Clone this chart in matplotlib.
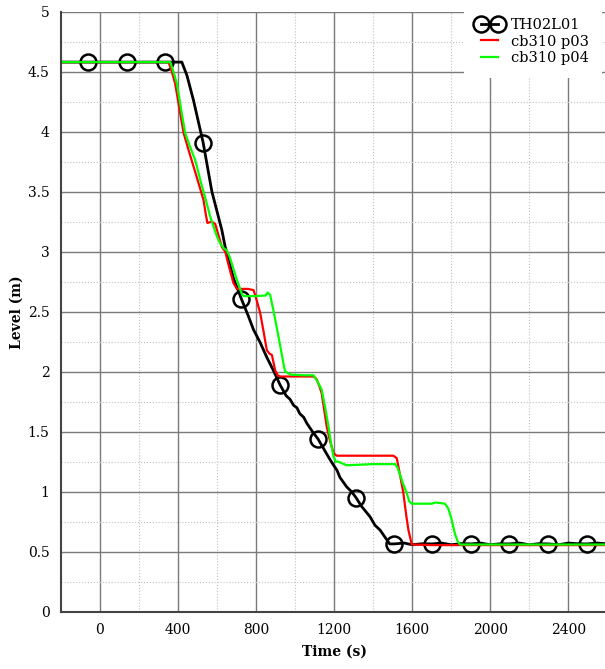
import numpy as np
import matplotlib.pyplot as plt
from matplotlib.ticker import MultipleLocator

# measured level, TH02L01
black_t = [-200, -58, 142, 336, 421, 447, 481, 530, 575, 626, 643, 685, 725,
           760, 788, 820, 856, 890, 924, 955, 975, 993, 1010, 1025, 1045, 1061,
           1090, 1118, 1150, 1175, 1198, 1215, 1230, 1265, 1290, 1313, 1340,
           1365, 1385, 1410, 1436, 1470, 1485, 1507, 1560, 1600, 1650, 1702,
           1750, 1800, 1850, 1901, 1950, 2000, 2050, 2096, 2150, 2200, 2250,
           2296, 2350, 2400, 2450, 2495, 2550, 2600]
black_lv = [4.58, 4.58, 4.58, 4.58, 4.58, 4.47, 4.26, 3.91, 3.50, 3.18, 3.04,
            2.78, 2.61, 2.47, 2.35, 2.25, 2.12, 2.01, 1.89, 1.80, 1.77, 1.72,
            1.70, 1.65, 1.62, 1.57, 1.50, 1.44, 1.35, 1.28, 1.22, 1.18, 1.12,
            1.04, 1.00, 0.95, 0.88, 0.83, 0.79, 0.72, 0.68, 0.60, 0.565, 0.565,
            0.572, 0.558, 0.566, 0.565, 0.572, 0.558, 0.567, 0.565, 0.572,
            0.558, 0.566, 0.565, 0.572, 0.558, 0.567, 0.565, 0.558, 0.572,
            0.566, 0.565, 0.572, 0.565]
marker_t = [-58, 142, 336, 530, 725, 924, 1118, 1313, 1507, 1702, 1901, 2096,
            2296, 2495]

# computed level, cb310 p03
red_t = [-200, 353, 370, 387, 410, 430, 455, 481, 505, 532, 545, 552, 575,
         592, 610, 626, 643, 665, 685, 703, 760, 788, 800, 822, 840, 856, 870,
         882, 899, 912, 924, 1000, 1095, 1110, 1125, 1137, 1150, 1163, 1180,
         1198, 1214, 1300, 1504, 1521, 1538, 1555, 1570, 1581, 1598, 1700,
         1845, 2600]
red_lv = [4.58, 4.58, 4.50, 4.40, 4.18, 3.99, 3.85, 3.71, 3.58, 3.43, 3.30,
          3.24, 3.25, 3.23, 3.13, 3.04, 3.00, 2.86, 2.74, 2.69, 2.69, 2.68,
          2.62, 2.49, 2.33, 2.18, 2.15, 2.14, 2.01, 1.97, 1.96, 1.96, 1.96,
          1.94, 1.88, 1.82, 1.68, 1.54, 1.42, 1.32, 1.30, 1.30, 1.30, 1.28,
          1.14, 0.99, 0.80, 0.68, 0.56, 0.555, 0.555, 0.555]

# computed level, cb310 p04
green_t = [-200, 362, 378, 396, 418, 438, 462, 490, 520, 549, 565, 583, 600,
           617, 635, 652, 665, 677, 700, 728, 737, 800, 850, 860, 873, 890,
           915, 941, 950, 962, 980, 1050, 1095, 1115, 1137, 1155, 1172, 1185,
           1198, 1210, 1223, 1265, 1400, 1513, 1525, 1538, 1555, 1572, 1585,
           1598, 1700, 1720, 1768, 1785, 1800, 1819, 1832, 1845, 2000, 2600]
green_lv = [4.58, 4.58, 4.50, 4.40, 4.18, 3.99, 3.88, 3.76, 3.57, 3.40, 3.30,
            3.21, 3.13, 3.07, 3.03, 3.01, 2.96, 2.90, 2.78, 2.65, 2.63, 2.63,
            2.635, 2.66, 2.64, 2.51, 2.30, 2.07, 2.00, 1.99, 1.975, 1.97, 1.97,
            1.92, 1.85, 1.70, 1.54, 1.40, 1.29, 1.25, 1.25, 1.22, 1.23, 1.23,
            1.20, 1.14, 1.06, 0.99, 0.92, 0.90, 0.90, 0.91, 0.90, 0.86, 0.78,
            0.65, 0.59, 0.56, 0.56, 0.56]

plt.rcParams['font.family'] = 'DejaVu Serif'

fig = plt.figure(figsize=(6.05, 6.69), dpi=100)
ax = fig.add_axes([60.5 / 605, 1 - 611.7 / 669, 547 / 605, 600 / 669])

mark_idx = [black_t.index(m) for m in marker_t]
ax.plot(black_t, black_lv, color='black', lw=2.0, marker='o', markersize=11.5,
        markerfacecolor='none', markeredgewidth=1.8, markevery=mark_idx,
        label='TH02L01')
ax.plot(red_t, red_lv, color='#ff0000', lw=1.6, label='cb310 p03')
ax.plot(green_t, green_lv, color='#00ff00', lw=1.6, label='cb310 p04')

ax.set_xlim(-200, 2600)
ax.set_ylim(0, 5)
ax.xaxis.set_major_locator(MultipleLocator(400))
ax.xaxis.set_minor_locator(MultipleLocator(200))
ax.yaxis.set_minor_locator(MultipleLocator(0.25))
ax.set_yticks(np.arange(0, 5.01, 0.5))
ax.set_yticklabels(['0', '0.5', '1', '1.5', '2', '2.5', '3', '3.5', '4', '4.5', '5'])
ax.grid(which='major', color='#7a7a7a', lw=1.0)
ax.grid(which='minor', color='#c0c0c0', lw=0.8, ls=':')
ax.set_axisbelow(True)
ax.tick_params(which='both', length=0, labelsize=10, pad=8)

for s in ['top', 'right']:
    ax.spines[s].set_visible(False)
for s in ['left', 'bottom']:
    ax.spines[s].set_color('#444444')
    ax.spines[s].set_linewidth(1.5)

ax.set_xlabel('Time (s)', fontweight='bold', fontsize=10, labelpad=6)
ax.set_ylabel('Level (m)', fontweight='bold', fontsize=10, labelpad=3)

leg = fig.legend(loc='upper right', bbox_to_anchor=(1 - 12 / 605, 1 - 14 / 669),
                 fontsize=10.5, frameon=True, edgecolor='none', fancybox=False,
                 framealpha=1.0, numpoints=2, handlelength=1.7,
                 labelspacing=0.15, borderpad=0.3, handletextpad=0.6,
                 borderaxespad=0)
leg.get_frame().set_boxstyle('square', pad=0.6)

fig.savefig('out.png', dpi=100)
